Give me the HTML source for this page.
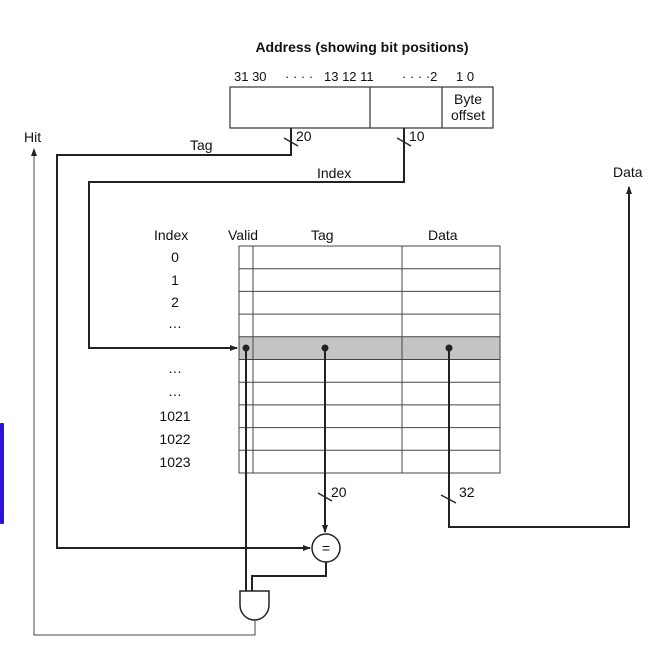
<!DOCTYPE html>
<html><head><meta charset="utf-8"><style>
html,body{margin:0;padding:0;background:#fff;width:649px;height:646px;overflow:hidden}
svg{display:block;font-family:"Liberation Sans",sans-serif;}
text{fill:#111;font-size:14px}
</style></head><body>
<svg width="649" height="646" viewBox="0 0 649 646" xmlns="http://www.w3.org/2000/svg">
<defs>
<marker id="a" markerWidth="8" markerHeight="8" refX="7" refY="4" orient="auto" markerUnits="userSpaceOnUse"><path d="M0,1 L8,4 L0,7 Z" fill="#222"/></marker>
</defs>
<rect x="0" y="423" width="4" height="101" fill="#2a12e0" rx="1"/>
<text x="362" y="52" text-anchor="middle" font-weight="bold">Address (showing bit positions)</text>
<text x="234" y="81" style="font-size:13px">31 30</text>
<text x="285" y="81" style="font-size:13px">· · · ·</text>
<text x="324" y="81" style="font-size:13px">13 12 11</text>
<text x="402" y="81" style="font-size:13px">· · · ·2</text>
<text x="456" y="81" style="font-size:13px">1 0</text>
<g stroke="#333" stroke-width="1.2" fill="none">
<rect x="230" y="87" width="263" height="41"/>
<line x1="370" y1="87" x2="370" y2="128"/>
<line x1="442" y1="87" x2="442" y2="128"/>
</g>
<text x="468" y="104" text-anchor="middle">Byte</text>
<text x="468" y="120" text-anchor="middle">offset</text>
<g stroke="#222" stroke-width="2" fill="none">
<polyline points="291,128 291,155 57,155 57,548 310,548" marker-end="url(#a)"/>
<polyline points="404,128 404,182 89,182 89,348 237,348" marker-end="url(#a)"/>
</g>
<g stroke="#222" stroke-width="1.3"><line x1="284" y1="138" x2="298" y2="146"/><line x1="397" y1="138" x2="411" y2="146"/></g>
<text x="296" y="141">20</text>
<text x="409" y="141">10</text>
<text x="190" y="150">Tag</text>
<text x="317" y="178">Index</text>
<text x="24" y="142">Hit</text>
<text x="613" y="177">Data</text>
<text x="154" y="240">Index</text>
<text x="228" y="240">Valid</text>
<text x="311" y="240">Tag</text>
<text x="428" y="240">Data</text>
<g text-anchor="middle">
<text x="175" y="262">0</text><text x="175" y="285">1</text><text x="175" y="307">2</text><text x="175" y="328">…</text>
<text x="175" y="373">…</text><text x="175" y="396">…</text>
<text x="175" y="421">1021</text><text x="175" y="444">1022</text><text x="175" y="467">1023</text>
</g>
<rect x="239" y="337" width="261" height="22.5" fill="#c4c4c4"/>
<g stroke="#444" stroke-width="1" fill="none">
<rect x="239" y="246" width="261" height="227"/>
<line x1="253" y1="246" x2="253" y2="473"/>
<line x1="402" y1="246" x2="402" y2="473"/>
<line x1="239" y1="268.7" x2="500" y2="268.7"/>
<line x1="239" y1="291.4" x2="500" y2="291.4"/>
<line x1="239" y1="314.1" x2="500" y2="314.1"/>
<line x1="239" y1="336.8" x2="500" y2="336.8"/>
<line x1="239" y1="359.5" x2="500" y2="359.5"/>
<line x1="239" y1="382.2" x2="500" y2="382.2"/>
<line x1="239" y1="404.9" x2="500" y2="404.9"/>
<line x1="239" y1="427.6" x2="500" y2="427.6"/>
<line x1="239" y1="450.3" x2="500" y2="450.3"/>
</g>
<g fill="#222"><circle cx="246" cy="348" r="3.5"/><circle cx="325" cy="348" r="3.5"/><circle cx="449" cy="348" r="3.5"/></g>
<g stroke="#222" stroke-width="2" fill="none">
<line x1="325" y1="348" x2="325" y2="532" marker-end="url(#a)"/>
<polyline points="449,348 449,527 629,527 629,187" marker-end="url(#a)"/>
<line x1="246" y1="348" x2="246" y2="591"/>
<polyline points="252,591 252,576 326,576 326,562"/>
</g>
<g stroke="#222" stroke-width="1.3"><line x1="318" y1="493" x2="332" y2="501"/><line x1="441" y1="495" x2="456" y2="503"/></g>
<text x="331" y="497">20</text>
<text x="459" y="497">32</text>
<circle cx="326" cy="548" r="14" stroke="#222" stroke-width="1.5" fill="#fff"/>
<text x="326" y="553" text-anchor="middle">=</text>
<path d="M240,591 L269,591 L269,605 A14.5,15 0 0 1 240,605 Z" stroke="#222" stroke-width="1.5" fill="#fff"/>
<g stroke="#444" stroke-width="1" fill="none">
<polyline points="255,620 255,635 34,635 34,149" marker-end="url(#a)"/>
</g>
</svg>
</body></html>
